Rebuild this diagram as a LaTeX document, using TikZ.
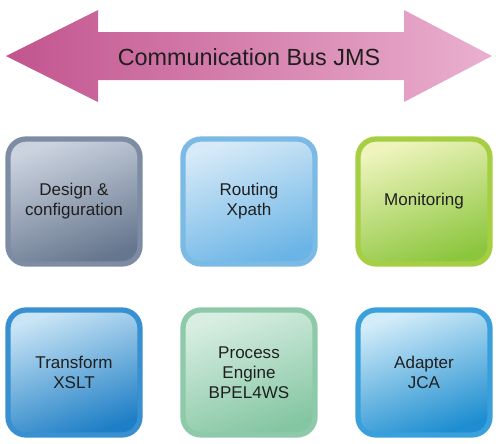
\documentclass[tikz,border=0pt]{standalone}
\usepackage{fontspec}
\setmainfont{Liberation Sans}
\definecolor{busleft}{HTML}{C2548E}
\definecolor{busright}{HTML}{EAB0CF}
\definecolor{designtop}{HTML}{CBD3DF}
\definecolor{designbot}{HTML}{66768E}
\definecolor{designrim}{HTML}{7D8CA3}
\definecolor{routetop}{HTML}{D6EAF7}
\definecolor{routebot}{HTML}{6AB4E6}
\definecolor{routerim}{HTML}{7ABAE4}
\definecolor{monitop}{HTML}{EEF4BC}
\definecolor{monibot}{HTML}{8CC63E}
\definecolor{monirim}{HTML}{A6CE42}
\definecolor{transtop}{HTML}{C8E4F5}
\definecolor{transbot}{HTML}{1F7FC6}
\definecolor{transrim}{HTML}{3890D0}
\definecolor{proctop}{HTML}{D8EEE2}
\definecolor{procbot}{HTML}{84C6A2}
\definecolor{procrim}{HTML}{8ECAAA}
\definecolor{adapttop}{HTML}{D2ECF9}
\definecolor{adaptbot}{HTML}{1E8ED0}
\definecolor{adaptrim}{HTML}{3AA0DC}
\tikzset{
  tile/.style={rounded corners=0.36cm, minimum width=2.64cm, minimum height=2.5cm,
    line width=3pt, align=center, text=black!88, font=\fontsize{9.7}{11.4}\selectfont},
}
\begin{document}
\begin{tikzpicture}[x=0.02cm,y=-0.02cm]
\useasboundingbox (0,0) rectangle (500,443);
\shade[left color=busleft,right color=busright] (6,56) -- (98,10) -- (98,32) -- (404,32)
  -- (404,10) -- (492,56) -- (404,102) -- (404,80) -- (98,80) -- (98,102) -- cycle;
\node[text=black!88,font=\fontsize{13.3}{16}\selectfont] (bus) at (249,57) {Communication Bus JMS};
\foreach \name/\x/\y/\c/\txt in {design/74/201.5/design/{Design \&\\configuration},
  routing/249/201.5/route/{Routing\\Xpath}, monitoring/424/201.5/moni/{Monitoring},
  transform/74/372.5/trans/{Transform\\XSLT}, process/249/372.5/proc/{Process\\Engine\\BPEL4WS},
  adapter/424/372.5/adapt/{Adapter\\JCA}}
  \node[tile, draw=\c rim, top color=\c top, bottom color=\c bot, shading angle=20] (\name) at (\x,\y) {\txt};
\end{tikzpicture}
\end{document}
